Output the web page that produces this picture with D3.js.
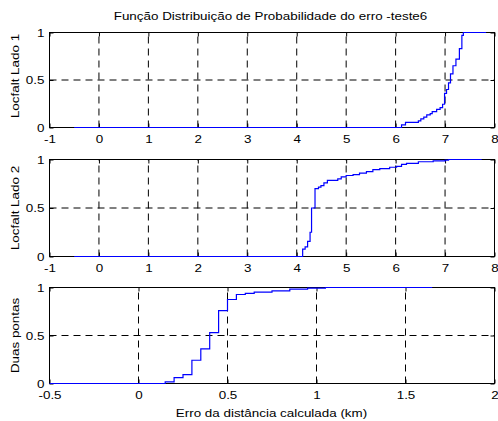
<!DOCTYPE html>
<html>
<head>
<meta charset="utf-8">
<script src="https://cdn.jsdelivr.net/npm/d3@7"></script>
<style>
body { margin: 0; background: #fff; }
text { font-family: "Liberation Sans", Arial, sans-serif; fill: #000; }
</style>
</head>
<body>
<script>
// chart values
var chartTitle = "Função Distribuição de Probabilidade do erro -teste6";
var xAxisLabel = "Erro da distância calculada (km)";
var panelLabels = ["Locfalt Lado 1", "Locfalt Lado 2", "Duas pontas"];

var xTicksLado = [-1, 0, 1, 2, 3, 4, 5, 6, 7, 8];
var xTicksDuas = [-0.5, 0, 0.5, 1, 1.5, 2];
var yTicks = [0, 0.5, 1];

// step points of each empirical distribution (x in km, cumulative probability)
var lado1X = [-0.5, 6.12, 6.20, 6.46, 6.51, 6.57, 6.63, 6.70, 6.74, 6.83, 6.90, 6.95, 6.99, 7.03, 7.07, 7.11, 7.16, 7.22, 7.29, 7.34, 7.37, 7.83];
var lado1P = [0, 0.028, 0.053, 0.07, 0.09, 0.11, 0.133, 0.147, 0.168, 0.19, 0.21, 0.245, 0.36, 0.40, 0.47, 0.565, 0.65, 0.72, 0.83, 0.97, 1, 1];

var lado2X = [-0.5, 4.12, 4.17, 4.22, 4.27, 4.30, 4.37, 4.44, 4.49, 4.55, 4.62, 4.83, 4.90, 5.00, 5.14, 5.27, 5.41, 5.54, 5.68, 5.88, 6.02, 6.12, 6.22, 6.46, 6.76, 7.00, 7.07, 7.74];
var lado2P = [0, 0.076, 0.10, 0.155, 0.25, 0.50, 0.70, 0.716, 0.73, 0.76, 0.785, 0.80, 0.82, 0.835, 0.845, 0.86, 0.875, 0.895, 0.905, 0.92, 0.93, 0.95, 0.96, 0.977, 0.986, 0.993, 1, 1];

var duasX = [-0.5, 0.15, 0.20, 0.25, 0.30, 0.35, 0.40, 0.45, 0.50, 0.55, 0.60, 0.65, 0.75, 0.85, 0.95, 1.05, 1.65];
var duasP = [0, 0.017, 0.062, 0.093, 0.242, 0.36, 0.53, 0.76, 0.875, 0.927, 0.938, 0.952, 0.965, 0.983, 0.993, 1, 1];

var W = 498, H = 421;
var left = 49.5, right = 494.5;
var sx = 1.22;          // glyphs in the picture are wider than they are tall
var fs = 11;

var panels = [
    { top: 32.5, bottom: 127.5, xs: lado1X, ps: lado1P, ticks: xTicksLado, domain: [-1, 8], label: panelLabels[0], labelY: 76 },
    { top: 159.5, bottom: 256.5, xs: lado2X, ps: lado2P, ticks: xTicksLado, domain: [-1, 8], label: panelLabels[1], labelY: 208 },
    { top: 287.5, bottom: 383.5, xs: duasX, ps: duasP, ticks: xTicksDuas, domain: [-0.5, 2], label: panelLabels[2], labelY: 335.5 }
];

var svg = d3.select("body").append("svg").attr("width", W).attr("height", H);

panels.forEach(function (p) {
    var x = d3.scaleLinear().domain(p.domain).range([left, right]);
    var y = d3.scaleLinear().domain([0, 1]).range([p.bottom, p.top]);
    var g = svg.append("g");

    // dashed grid
    g.selectAll("line.vgrid").data(p.ticks.slice(1, -1)).enter().append("line")
        .attr("x1", function (d) { return x(d); }).attr("x2", function (d) { return x(d); })
        .attr("y1", p.bottom).attr("y2", p.top)
        .attr("stroke", "#000").attr("stroke-width", 1).attr("stroke-dasharray", "7,5");
    g.selectAll("line.hgrid").data([0.5]).enter().append("line")
        .attr("x1", left).attr("x2", right)
        .attr("y1", function (d) { return y(d); }).attr("y2", function (d) { return y(d); })
        .attr("stroke", "#000").attr("stroke-width", 1).attr("stroke-dasharray", "7,5");

    // axes with inward ticks
    var ax = g.append("g").attr("transform", "translate(0," + p.bottom + ")")
        .call(d3.axisBottom(x).tickValues(p.ticks).tickSize(-4).tickSizeOuter(0).tickFormat(function (d) { return String(d); }));
    ax.selectAll("text").attr("y", 8).attr("dy", "0.71em")
        .attr("transform", "scale(" + sx + ",1)");
    g.append("g").attr("transform", "translate(0," + p.top + ")")
        .call(d3.axisTop(x).tickValues(p.ticks).tickSize(-4).tickSizeOuter(0).tickFormat(""));
    var ay = g.append("g").attr("transform", "translate(" + left + ",0)")
        .call(d3.axisLeft(y).tickValues(yTicks).tickSize(-4).tickSizeOuter(0).tickFormat(function (d) { return String(d); }));
    ay.selectAll("text").attr("x", 0).attr("dy", "0.35em")
        .attr("transform", "translate(-5,0) scale(" + sx + ",1)");
    g.append("g").attr("transform", "translate(" + right + ",0)")
        .call(d3.axisRight(y).tickValues(yTicks).tickSize(-4).tickSizeOuter(0).tickFormat(""));
    g.selectAll(".domain").remove();
    g.selectAll(".tick line").attr("stroke", "#000");
    g.selectAll(".tick text").attr("font-size", fs).attr("font-family", null);

    g.append("rect").attr("x", left).attr("y", p.top)
        .attr("width", right - left).attr("height", p.bottom - p.top)
        .attr("fill", "none").attr("stroke", "#000").attr("stroke-width", 1);

    // empirical CDF
    var pts = p.xs.map(function (v, i) { return [v, p.ps[i]]; });
    var line = d3.line().x(function (d) { return x(d[0]); }).y(function (d) { return y(d[1]); })
        .curve(d3.curveStepAfter);
    g.append("path").datum(pts).attr("d", line)
        .attr("fill", "none").attr("stroke", "#0000ff").attr("stroke-width", 1.2);

    svg.append("text")
        .attr("transform", "translate(18.5," + p.labelY + ") rotate(-90) scale(" + sx + ",1)")
        .attr("text-anchor", "middle").attr("font-size", fs).text(p.label);
});

svg.append("text").attr("transform", "translate(270.5,19.5) scale(" + sx + ",1)")
    .attr("text-anchor", "middle").attr("font-size", fs).text(chartTitle);
svg.append("text").attr("transform", "translate(271.5,417) scale(" + sx + ",1)")
    .attr("text-anchor", "middle").attr("font-size", fs).text(xAxisLabel);
</script>
</body>
</html>
